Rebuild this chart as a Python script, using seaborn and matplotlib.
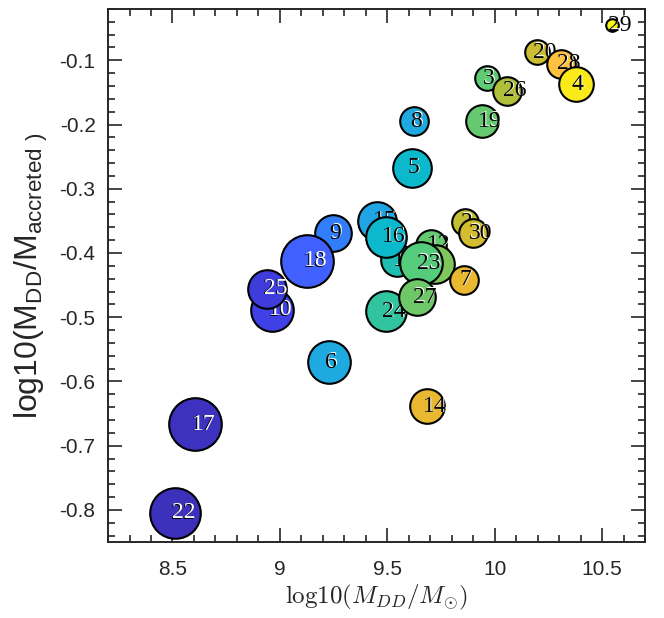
import numpy as np
import pandas as pd
import matplotlib
matplotlib.use("Agg")
import matplotlib.pyplot as plt
from matplotlib.colors import LinearSegmentedColormap
from matplotlib.ticker import MultipleLocator
import seaborn as sns

# halo id, in the order the circles are drawn
ids = [22, 17, 10, 25, 9, 18, 6, 8, 5, 15, 13, 16, 24, 12, 1, 23, 27,
       14, 7, 2, 30, 19, 3, 26, 20, 28, 4, 29]
log_mdd = [8.514, 8.607, 8.965, 8.942, 9.249, 9.128, 9.230, 9.626, 9.616,
           9.453, 9.547, 9.495, 9.495, 9.705, 9.723, 9.658, 9.640, 9.686,
           9.858, 9.863, 9.900, 9.942, 9.965, 10.058, 10.198, 10.309,
           10.379, 10.547]
log_ratio = [-0.805, -0.667, -0.489, -0.456, -0.369, -0.4125, -0.570,
             -0.195, -0.267, -0.350, -0.411, -0.375, -0.491, -0.3875,
             -0.417, -0.416, -0.469, -0.639, -0.442, -0.352, -0.369,
             -0.195, -0.128, -0.147, -0.0875, -0.105, -0.1375, -0.045]
# circle size (radius) and colour value
radius = [26, 27, 22, 20, 19, 27, 22, 15, 20, 20, 17, 21, 21, 16, 20, 22,
          19, 18, 15, 14, 15, 17, 13, 15, 13, 15, 18, 7]
cval = [0.02, 0.03, 0.10, 0.08, 0.24, 0.18, 0.33, 0.33, 0.42, 0.32, 0.48,
        0.42, 0.52, 0.62, 0.65, 0.60, 0.63, 0.88, 0.88, 0.77, 0.82, 0.62,
        0.61, 0.72, 0.79, 0.92, 0.98, 1.00]

df = pd.DataFrame({"id": ids, "x": log_mdd, "y": log_ratio,
                   "r": radius, "c": cval})

# parula-ish colormap
cmap = LinearSegmentedColormap.from_list("parula_like", [
    (0.00, "#3a2db0"), (0.10, "#4040e8"), (0.18, "#4060ff"),
    (0.25, "#2f82f8"), (0.33, "#1eaae0"), (0.42, "#0cb8cc"),
    (0.50, "#28c0a8"), (0.60, "#55cc7c"), (0.70, "#a8c03c"),
    (0.80, "#cdbd30"), (0.88, "#e8b830"), (0.92, "#ffc040"),
    (1.00, "#f8f80e")])

sns.set_style("ticks")
plt.rcParams["font.family"] = ["Liberation Sans", "DejaVu Sans"]
plt.rcParams["axes.unicode_minus"] = False

fig = plt.figure(figsize=(6.64, 6.18), dpi=100)
ax = fig.add_axes([0.1627, 0.1230, 0.8087, 0.8625])

for i, row in df.iterrows():
    col = cmap(row["c"])
    z = 3 + 2 * i
    sns.scatterplot(x=[row["x"]], y=[row["y"]], ax=ax, s=(1.44 * row["r"] - 1) ** 2,
                    color=col, edgecolor="black", linewidth=1.5, zorder=z,
                    legend=False)
    lum = 0.299 * col[0] + 0.587 * col[1] + 0.114 * col[2]
    dark = lum < 0.45
    lab = str(int(row["id"]))
    kw = dict(xycoords="data", textcoords="offset points", ha="left",
              va="center", fontsize=17, family=["Liberation Serif", "DejaVu Serif"])
    ax.annotate(lab, (row["x"], row["y"]), xytext=(-3.2, 0), color="black",
                zorder=z + (0.5 if dark else 1.0), **kw)
    ax.annotate(lab, (row["x"], row["y"]), xytext=(-2.4, 0.3), color="white",
                zorder=z + (1.0 if dark else 0.5), **kw)

ax.set_xlim(8.2, 10.7)
ax.set_ylim(-0.85, -0.02)
ax.xaxis.set_major_locator(MultipleLocator(0.5))
ax.xaxis.set_minor_locator(MultipleLocator(0.1))
ax.yaxis.set_major_locator(MultipleLocator(0.1))
ax.yaxis.set_minor_locator(MultipleLocator(0.02))
ax.set_xticks([8.5, 9, 9.5, 10, 10.5])
ax.set_xticklabels(["8.5", "9", "9.5", "10", "10.5"])
ax.set_yticks([-0.8, -0.7, -0.6, -0.5, -0.4, -0.3, -0.2, -0.1])
ax.set_yticklabels(["-0.8", "-0.7", "-0.6", "-0.5", "-0.4", "-0.3", "-0.2", "-0.1"])

ax.tick_params(which="both", direction="in", top=True, right=True,
               color="#262626", width=1.2, labelsize=15, labelcolor="#262626")
ax.tick_params(which="major", length=10)
ax.tick_params(which="minor", length=5)
ax.tick_params(axis="x", which="major", pad=13)
ax.tick_params(axis="y", which="major", pad=9)
for sp in ax.spines.values():
    sp.set_linewidth(1.4)
    sp.set_color("#262626")

ax.set_xlabel(r"$\mathrm{log10}(M_{DD}/M_{\odot})$", fontsize=18,
              math_fontfamily="cm", labelpad=3)
ax.set_ylabel(r"log10(M$_\mathregular{DD}$/M$_\mathregular{accreted\ )}$",
              fontsize=23, labelpad=7, color="#262626")

fig.savefig("out.png", dpi=100)
